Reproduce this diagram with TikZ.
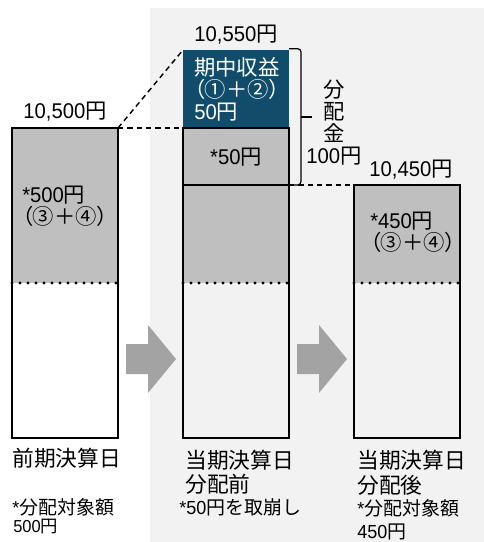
\documentclass[tikz,border=0pt]{standalone}
\usepackage{fontspec}
\setmainfont{Liberation Sans}[FakeStretch=0.95]
\newfontfamily\jp{Noto Sans CJK JP}
\newfontfamily\jpp{Noto Sans CJK JP}[RawFeature=+palt]
\definecolor{bggray}{RGB}{242,242,242}
\definecolor{fundgray}{RGB}{191,191,191}
\definecolor{gainblue}{RGB}{17,76,106}
\definecolor{arrowgray}{RGB}{163,163,163}
\tikzset{
  part/.style={inner sep=0pt, outer sep=0pt, minimum width=79.5pt},
  outline/.style={line width=1.1pt},
  link/.style={dash pattern=on 4pt off 3pt, line width=1.1pt},
  divider/.style={line width=2.3pt, line cap=round, dash pattern=on 0pt off 6pt},
  amount/.style={inner sep=0pt, font=\fontsize{16}{16.5}\selectfont},
  inbox/.style={inner sep=0pt, anchor=west, align=left, font=\fontsize{16}{16.5}\selectfont},
  caption/.style={inner sep=0pt, anchor=west, font=\fontsize{16.3}{18}\selectfont\jp},
  note/.style={inner sep=0pt, anchor=west, font=\fontsize{14.2}{15}\selectfont},
}
\newcommand\pars[1]{{\jpp （}{\jp #1}{\jpp ）}}
\begin{document}
\begin{tikzpicture}[x=0.75pt,y=-0.75pt]
  \useasboundingbox (0,0) rectangle (484,542);
  \fill[bggray] (150,8) rectangle (484,542);

  % bars
  \node[part, fill=fundgray, minimum height=116.25pt] (prevfund) at (65,205.5) {};
  \node[part, fill=white, minimum height=116.25pt] (prevrest) at (65,360.5) {};
  \node[part, fill=gainblue, minimum height=58.5pt] (gain) at (236,89) {};
  \node[part, fill=fundgray, minimum height=42.75pt] (payfund) at (236,156.5) {};
  \node[part, fill=fundgray, minimum height=73.5pt] (midfund) at (236,234) {};
  \node[part, minimum height=116.25pt] (midrest) at (236,360.5) {};
  \node[part, fill=fundgray, minimum height=73.5pt] (postfund) at (407,234) {};
  \node[part, minimum height=116.25pt] (postrest) at (407,360.5) {};

  \draw[outline] (prevfund.north west) rectangle (prevrest.south east);
  \draw[outline] (payfund.north west) rectangle (midrest.south east);
  \draw[outline] (payfund.south west) -- (payfund.south east);
  \draw[outline] (postfund.north west) rectangle (postrest.south east);
  \draw[divider] (prevfund.south west) -- (prevfund.south east);
  \draw[divider] (midfund.south west) -- (midfund.south east);
  \draw[divider] (postfund.south west) -- (postfund.south east);

  % dashed links
  \draw[link] (prevfund.north east) -- (gain.north west);
  \draw[link] (prevfund.north east) -- (payfund.north west);
  \draw[link] (payfund.south east) -- (postfund.north west);

  % brace
  \draw[line width=0.9pt, rounded corners=2.5pt]
    ([yshift=1pt]gain.north east) -- ++(12,0) |- ([xshift=1pt]payfund.south east);
  \draw[line width=0.9pt] (301,117) -- (312,117);
  \node[amount, align=center] (payout) at (334,123)
    {{\jp 分}\\{\jp 配}\\{\jp 金}\\100{\jp 円}};

  % arrows
  \foreach \ax in {126,297}
    \fill[arrowgray] (\ax,344) -- ({\ax+22},344) -- ({\ax+22},325) -- ({\ax+50},359)
      -- ({\ax+22},393) -- ({\ax+22},374) -- (\ax,374) -- cycle;

  % amounts
  \node[amount] (prevtotal) at (65,112) {10,500{\jp 円}};
  \node[amount] (midtotal) at (236,35) {10,550{\jp 円}};
  \node[amount] (posttotal) at (411,170) {10,450{\jp 円}};
  \node[inbox, text=white] (gaintext) at (194,89)
    {{\jp 期中収益}\\\pars{①＋②}\\50{\jp 円}};
  \node[amount] (paytext) at (236,157) {*50{\jp 円}};
  \node[inbox] (prevtext) at (22,206) {*500{\jp 円}\\\pars{③＋④}};
  \node[inbox] (posttext) at (370,232) {*450{\jp 円}\\\pars{③＋④}};

  % captions
  \node[caption] (prevdate) at (12,458) {前期決算日};
  \node[note] (prevnote) at (12,507) {*{\jp 分配対象額}};
  \node[note, font=\fontsize{13}{15}\selectfont] (prevamt) at (13,527) {500{\jp 円}};
  \node[caption] (middate) at (185,460) {当期決算日};
  \node[caption] (midstate) at (185,484) {分配前};
  \node[note] (midnote) at (179,507) {*50{\jp 円を取崩し}};
  \node[caption] (postdate) at (357,460) {当期決算日};
  \node[caption] (poststate) at (357,485) {分配後};
  \node[note] (postnote) at (357,508) {*{\jp 分配対象額}};
  \node[note] (postamt) at (357,532) {450{\jp 円}};
\end{tikzpicture}
\end{document}
